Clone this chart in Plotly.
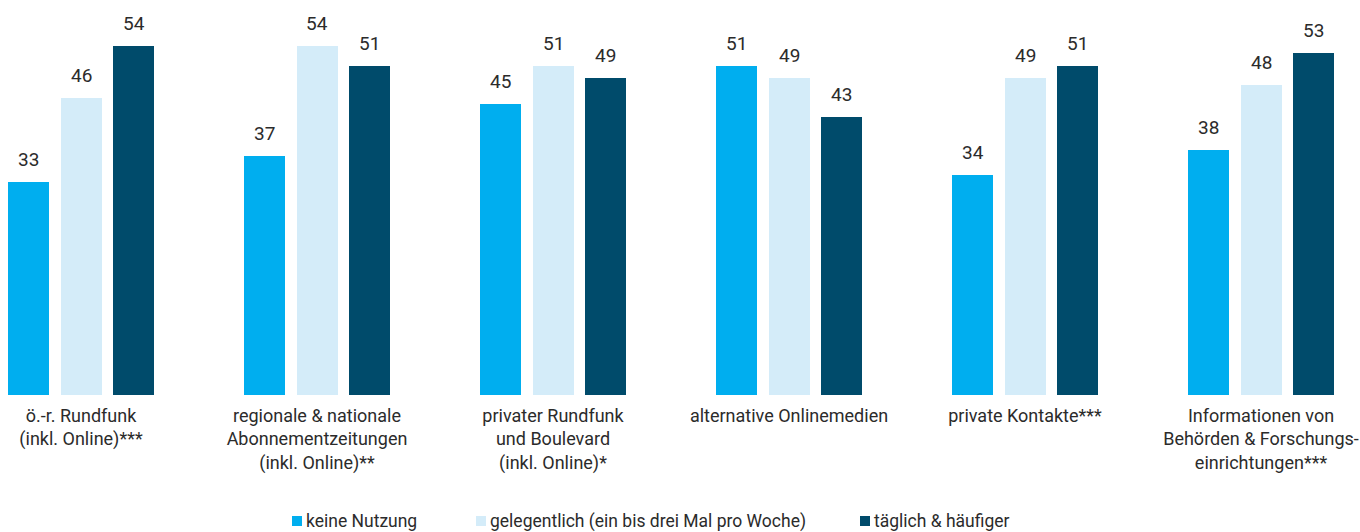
import plotly.graph_objects as go

categories = [
    "ö.-r. Rundfunk<br>(inkl. Online)***",
    "regionale & nationale<br>Abonnementzeitungen<br>(inkl. Online)**",
    "privater Rundfunk<br>und Boulevard<br>(inkl. Online)*",
    "alternative Onlinemedien",
    "private Kontakte***",
    "Informationen von<br>Behörden & Forschungs-<br>einrichtungen***",
]
series_names = ["keine Nutzung", "gelegentlich (ein bis drei Mal pro Woche)", "täglich & häufiger"]
keine = [33, 37, 45, 51, 34, 38]
gelegentlich = [46, 54, 51, 49, 49, 48]
taeglich = [54, 51, 49, 43, 51, 53]
colors = ["#00AEEF", "#D4ECF9", "#004B6B"]

FONT = "Roboto, Liberation Sans Narrow, Arial Narrow, sans-serif"
TXT = "#2b2b2b"

W, H = 1360, 532
group_px = 236.0
first_center_px = 81.0
slot = 52.5 / group_px
bw = 41.0 / group_px
x0 = -first_center_px / group_px
x1 = x0 + W / group_px

baseline_px = 395
px_per_unit = 6.46
ymax = baseline_px / px_per_unit

def py(px):
    return (baseline_px - px) / baseline_px

fig = go.Figure()
annotations = []
shapes = []
for j, (name, vals) in enumerate(zip(series_names, [keine, gelegentlich, taeglich])):
    xs = [i + (j - 1) * slot for i in range(len(categories))]
    fig.add_trace(go.Bar(
        x=xs, y=vals, width=bw, name=name,
        marker=dict(color=colors[j], line=dict(width=0)),
        hoverinfo="y", showlegend=False,
    ))
    for x, v in zip(xs, vals):
        annotations.append(dict(
            x=x, y=v, text=str(v), showarrow=False, yanchor="bottom",
            yshift=9, font=dict(family=FONT, size=19, color=TXT),
        ))

# manual legend (square swatch + text), centred below the chart
legend_x_px = [292, 476, 860]
legend_y_px = 521
for j, name in enumerate(series_names):
    lx = legend_x_px[j]
    shapes.append(dict(type="rect", xref="paper", yref="paper",
                       x0=lx / W, x1=(lx + 10) / W,
                       y0=py(legend_y_px + 5), y1=py(legend_y_px - 5),
                       fillcolor=colors[j], line=dict(width=0)))
    annotations.append(dict(xref="paper", yref="paper", x=(lx + 12) / W, y=py(legend_y_px),
                            xanchor="left", yanchor="middle", showarrow=False, text=name,
                            font=dict(family=FONT, size=17.5, color=TXT)))

fig.update_layout(
    width=W, height=H,
    margin=dict(l=0, r=0, t=0, b=H - baseline_px, pad=0),
    plot_bgcolor="white", paper_bgcolor="white",
    font=dict(family=FONT, size=18, color=TXT),
    bargap=0, barmode="overlay",
    xaxis=dict(range=[x0, x1], tickvals=list(range(len(categories))), ticktext=categories,
               showgrid=False, zeroline=False, showline=False, ticks="", fixedrange=True,
               ticklabelstandoff=8, ticklabeloverflow="allow",
               tickfont=dict(family=FONT, size=18, color=TXT)),
    yaxis=dict(range=[0, ymax], visible=False, fixedrange=True),
    showlegend=False,
    annotations=annotations,
    shapes=shapes,
)

fig.write_html("out.html", config={"displayModeBar": False},
               post_script="document.body.style.margin='0';")
